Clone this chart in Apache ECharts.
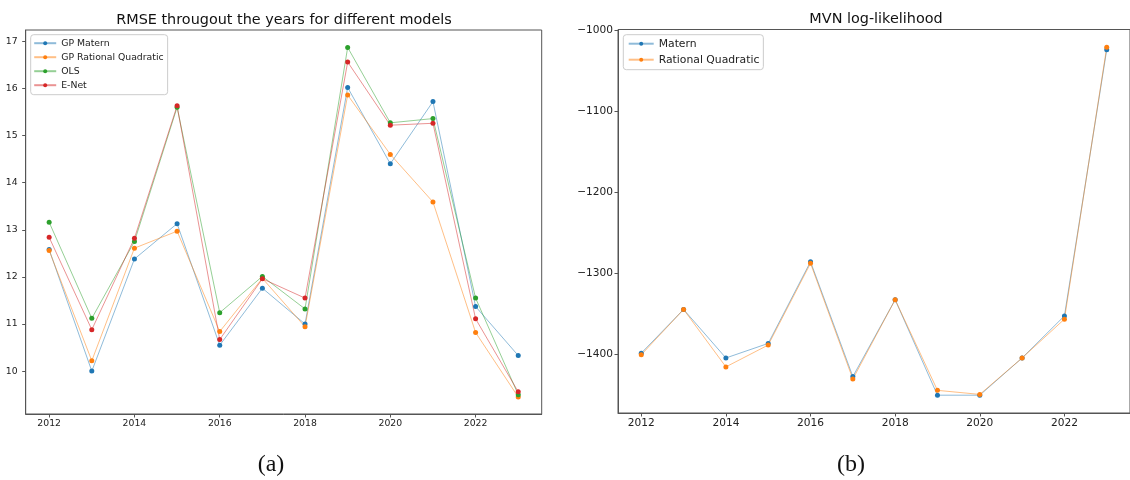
<!DOCTYPE html>
<html>
<head>
<meta charset="utf-8">
<script src="https://cdn.jsdelivr.net/npm/echarts@6/dist/echarts.min.js"></script>
<style>
  html, body { margin: 0; padding: 0; background: #fff; }
  #chart { width: 1130px; height: 480px; }
</style>
</head>
<body>
<div id="chart"></div>
<script>
// Years covered by both panels
const years = [2012, 2013, 2014, 2015, 2016, 2017, 2018, 2019, 2020, 2021, 2022, 2023];

// Panel (a): RMSE per year for each model
const rmseGPMatern   = [12.58, 10.00, 12.38, 13.13, 10.55, 11.76, 11.00, 16.02, 14.40, 15.72, 11.37, 10.33];
const rmseGPRQ       = [12.56, 10.22, 12.61, 12.97, 10.84, 11.97, 10.94, 15.86, 14.60, 13.59, 10.82, 9.45];
const rmseOLS        = [13.16, 11.12, 12.75, 15.60, 11.24, 12.01, 11.32, 16.87, 15.27, 15.36, 11.55, 9.50];
const rmseENet       = [12.84, 10.88, 12.82, 15.63, 10.67, 11.96, 11.55, 16.56, 15.22, 15.26, 11.11, 9.56];

// Panel (b): MVN log-likelihood per year for each kernel
const llMatern = [-1399, -1345, -1405, -1387, -1286, -1428, -1333, -1451, -1451, -1405, -1353, -1024];
const llRQ     = [-1401, -1345, -1416, -1389, -1288, -1431, -1333, -1445, -1450, -1405, -1357, -1021];

// Tick labels
const yearTicks = [2012, 2014, 2016, 2018, 2020, 2022];
const rmseTicks = [10, 11, 12, 13, 14, 15, 16, 17];
const llTicks   = [-1400, -1300, -1200, -1100, -1000];

const C = { blue: '#1f77b4', orange: '#ff7f0e', green: '#2ca02c', red: '#d62728' };
const FONT = 'DejaVu Sans';

const pairs = (vals) => years.map((y, i) => [y, vals[i]]);

function lineSeries(name, vals, color, xi, yi) {
  return {
    name, type: 'line', xAxisIndex: xi, yAxisIndex: yi,
    data: pairs(vals),
    symbol: 'circle', symbolSize: 5,
    itemStyle: { color },
    lineStyle: { color, width: 1, opacity: 0.5 },
    emphasis: { disabled: true },
    animation: false
  };
}

function xAxis(gi, fs) {
  return {
    type: 'value', gridIndex: gi, min: 2011.45, max: 2023.55,
    splitLine: { show: false },
    axisLine: { show: true, lineStyle: { color: '#555', width: 1 } },
    axisTick: { show: true, inside: false, length: 3.5, customValues: yearTicks, lineStyle: { color: '#555' } },
    axisLabel: { customValues: yearTicks, margin: 5, color: '#222', fontFamily: FONT, fontSize: fs,
                 formatter: (v) => String(Math.round(v)) }
  };
}

function yAxis(gi, min, max, ticks, fs, margin, fmt) {
  return {
    type: 'value', gridIndex: gi, min, max,
    splitLine: { show: false },
    axisLine: { show: true, lineStyle: { color: '#555', width: 1 } },
    axisTick: { show: true, inside: false, length: 3.5, customValues: ticks, lineStyle: { color: '#555' } },
    axisLabel: { customValues: ticks, margin, color: '#222', fontFamily: FONT, fontSize: fs, formatter: fmt }
  };
}

const plainFmt = (v) => String(v);
const minusFmt = (v) => String(v).replace('-', '\u2212');

const chart = echarts.init(document.getElementById('chart'), null, { renderer: 'canvas' });

chart.setOption({
  backgroundColor: '#fff',
  animation: false,
  title: [
    { text: 'RMSE througout the years for different models', left: 284, top: 13, padding: 0, textAlign: 'center',
      textStyle: { fontFamily: FONT, fontSize: 14.4, fontWeight: 'normal', color: '#111' } },
    { text: 'MVN log-likelihood', left: 876, top: 12.5, padding: 0, textAlign: 'center',
      textStyle: { fontFamily: FONT, fontSize: 14.4, fontWeight: 'normal', color: '#111' } },
    { text: '(a)', left: 271, top: 453, padding: 0, textAlign: 'center',
      textStyle: { fontFamily: 'Liberation Serif', fontSize: 24, fontWeight: 'normal', color: '#111' } },
    { text: '(b)', left: 851, top: 453, padding: 0, textAlign: 'center',
      textStyle: { fontFamily: 'Liberation Serif', fontSize: 24, fontWeight: 'normal', color: '#111' } }
  ],
  grid: [
    { left: 25.7, top: 30, width: 516, height: 384, show: true, borderColor: '#555', borderWidth: 1, backgroundColor: 'transparent', containLabel: false },
    { left: 618, top: 29.5, width: 516, height: 383.5, show: true, borderColor: '#555', borderWidth: 1, backgroundColor: 'transparent', containLabel: false }
  ],
  xAxis: [xAxis(0, 9.3), xAxis(1, 10.6)],
  yAxis: [
    yAxis(0, 9.09, 17.24, rmseTicks, 9.3, 8, plainFmt),
    yAxis(1, -1473, -999, llTicks, 10.6, 5, minusFmt)
  ],
  legend: [
    {
      data: ['GP Matern', 'GP Rational Quadratic', 'OLS', 'E-Net'],
      orient: 'vertical', left: 30.7, top: 34.7,
      padding: [3, 4, 4, 2.5], itemGap: 3, itemWidth: 22, itemHeight: 5,
      backgroundColor: 'rgba(255,255,255,0.8)', borderColor: '#ccc', borderWidth: 1, borderRadius: 3,
      lineStyle: { opacity: 0.5 },
      textStyle: { fontFamily: FONT, fontSize: 9.3, lineHeight: 11, color: '#222' },
      selectedMode: false
    },
    {
      data: ['Matern', 'Rational Quadratic'],
      orient: 'vertical', left: 623.3, top: 34.7,
      padding: [3, 4, 4, 4.4], itemGap: 4, itemWidth: 25, itemHeight: 5,
      backgroundColor: 'rgba(255,255,255,0.8)', borderColor: '#ccc', borderWidth: 1, borderRadius: 3,
      lineStyle: { opacity: 0.5 },
      textStyle: { fontFamily: FONT, fontSize: 10.8, lineHeight: 12, color: '#222' },
      selectedMode: false
    }
  ],
  series: [
    lineSeries('GP Matern', rmseGPMatern, C.blue, 0, 0),
    lineSeries('GP Rational Quadratic', rmseGPRQ, C.orange, 0, 0),
    lineSeries('OLS', rmseOLS, C.green, 0, 0),
    lineSeries('E-Net', rmseENet, C.red, 0, 0),
    lineSeries('Matern', llMatern, C.blue, 1, 1),
    lineSeries('Rational Quadratic', llRQ, C.orange, 1, 1)
  ]
});
</script>
</body>
</html>
